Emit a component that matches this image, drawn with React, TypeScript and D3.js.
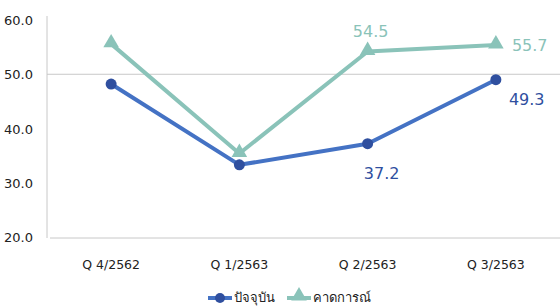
import React from 'react';
import * as d3 from 'd3';

const categories = ['Q 4/2562', 'Q 1/2563', 'Q 2/2563', 'Q 3/2563'];
const current = [48.2, 33.3, 37.2, 49.0];
const expected = [55.6, 35.4, 54.2, 55.4];
const yTicks = [20, 30, 40, 50, 60];
const seriesNames = ['ปัจจุบัน', 'คาดการณ์'];
const labelCurrent = ['', '', '37.2', '49.3'];
const labelExpected = ['', '', '54.5', '55.7'];

const W = 560;
const H = 306;
const left = 47;
const right = 560;
const top = 20;
const bottom = 237;

const blue = '#4472c4';
const blueDark = '#2f4f9f';
const teal = '#8ac3b9';
const font = 'Tahoma, "DejaVu Sans", "Noto Sans", sans-serif';

const App = () => {
  const x = d3.scaleBand().domain(categories).range([left, right]);
  const y = d3.scaleLinear().domain([20, 60]).range([bottom, top]);
  const cx = (c: string) => (x(c) as number) + x.bandwidth() / 2;
  const line = d3.line<number>().x((d, i) => cx(categories[i])).y(d => y(d));
  const tri = d3.symbol().type(d3.symbolTriangle).size(105);

  return (
    <svg width={W} height={H} style={{ position: 'absolute', left: 0, top: 0 }} fontFamily={font}>
      {/* axes */}
      <line x1={left} x2={left} y1={top - 4} y2={bottom + 1} stroke="#c8c8c8" strokeWidth={1} />
      <line x1={left} x2={right} y1={y(50)} y2={y(50)} stroke="#c8c8c8" strokeWidth={1} />
      <line x1={left + 3} x2={right} y1={bottom + 1} y2={bottom + 1} stroke="#c8c8c8" strokeWidth={1} />
      {yTicks.map(t => (
        <text key={t} x={33} y={y(t) + 5} textAnchor="end" fontSize={13} fill="#222">{t.toFixed(1)}</text>
      ))}
      {categories.map(c => (
        <text key={c} x={cx(c)} y={269} textAnchor="middle" fontSize={12.5} fill="#222">{c}</text>
      ))}

      {/* expected */}
      <path d={line(expected) || ''} fill="none" stroke={teal} strokeWidth={4} strokeLinejoin="round" />
      {expected.map((v, i) => (
        <path key={i} d={tri() || ''} transform={`translate(${cx(categories[i])},${y(v) - 1})`} fill={teal} />
      ))}

      {/* current */}
      <path d={line(current) || ''} fill="none" stroke={blue} strokeWidth={4} strokeLinejoin="round" />
      {current.map((v, i) => (
        <circle key={i} cx={cx(categories[i])} cy={y(v)} r={5.5} fill={blueDark} />
      ))}

      {/* value labels */}
      <text x={cx(categories[2]) + 3} y={y(expected[2]) - 14} textAnchor="middle" fontSize={16} fill={teal}>{labelExpected[2]}</text>
      <text x={cx(categories[3]) + 16} y={y(expected[3]) + 6} textAnchor="start" fontSize={16} fill={teal}>{labelExpected[3]}</text>
      <text x={cx(categories[3]) + 13} y={y(current[3]) + 25} textAnchor="start" fontSize={16} fill={blueDark}>{labelCurrent[3]}</text>
      <text x={cx(categories[2]) + 14} y={y(current[2]) + 35} textAnchor="middle" fontSize={16} fill={blueDark}>{labelCurrent[2]}</text>

      {/* legend */}
      <line x1={208} x2={232} y1={298} y2={298} stroke={blue} strokeWidth={4} />
      <circle cx={220} cy={298} r={5} fill={blueDark} />
      <text x={234} y={302} fontSize={13} fill="#222">{seriesNames[0]}</text>
      <line x1={287} x2={311} y1={298} y2={298} stroke={teal} strokeWidth={4} />
      <path d={tri() || ''} transform="translate(299,296)" fill={teal} />
      <text x={313} y={302} fontSize={13} fill="#222">{seriesNames[1]}</text>
    </svg>
  );
};

export default App;
